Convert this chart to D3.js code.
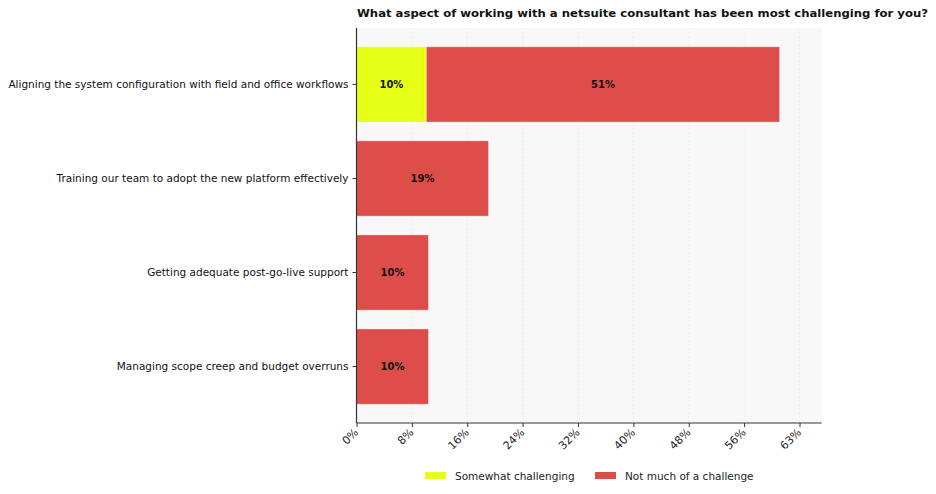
<!DOCTYPE html>
<html><head><meta charset="utf-8">
<script src="https://cdn.jsdelivr.net/npm/d3@7/dist/d3.min.js"></script>
<style>
body{margin:0;background:#fff;}
svg{display:block;font-family:"DejaVu Sans",sans-serif;}
</style></head>
<body><svg id="c" width="936" height="494"></svg>
<script>
const categories = [
  "Aligning the system configuration with field and office workflows",
  "Training our team to adopt the new platform effectively",
  "Getting adequate post-go-live support",
  "Managing scope creep and budget overruns"
];
const seriesNames = ["Somewhat challenging", "Not much of a challenge"];
const somewhat = [10.0, 0, 0, 0];
const notMuch = [50.6, 18.9, 10.3, 10.3];
const labelsSomewhat = ["10%", "", "", ""];
const labelsNotMuch = ["51%", "19%", "10%", "10%"];
const tickValues = [0, 7.93, 15.86, 23.79, 31.72, 39.66, 47.59, 55.52, 63.45];
const tickLabels = ["0%","8%","16%","24%","32%","40%","48%","56%","63%"];
const colors = ["#e5ff17", "#dd4e4a"];
const title = "What aspect of working with a netsuite consultant has been most challenging for you?";

const svg = d3.select("#c");
const m = {left:356.5, right:821.5, top:28, bottom:423};
const x = d3.scaleLinear().domain([0, 66.6]).range([m.left, m.right]);
const y = d3.scaleBand().domain(categories).range([m.top, m.bottom]).paddingInner(0.2).paddingOuter(0.2);

svg.append("rect").attr("x", m.left).attr("y", m.top).attr("width", m.right-m.left).attr("height", m.bottom-m.top).attr("fill", "#f8f8f8");

// grid
svg.append("g").selectAll("line").data(tickValues.slice(1)).join("line")
  .attr("x1", d=>x(d)).attr("x2", d=>x(d)).attr("y1", m.top).attr("y2", m.bottom)
  .attr("stroke", "#e6e6e6").attr("stroke-width", 0.7).attr("stroke-dasharray", "2,2");

const data = categories.map((c,i)=>({c, a:somewhat[i], b:notMuch[i], la:labelsSomewhat[i], lb:labelsNotMuch[i]}));

const g = svg.append("g");
g.selectAll("rect.a").data(data.filter(d=>d.a>0)).join("rect").attr("class","a")
  .attr("x", x(0)).attr("y", d=>y(d.c)).attr("width", d=>x(d.a)-x(0)).attr("height", y.bandwidth())
  .attr("fill", colors[0]).attr("stroke", "#ffffff").attr("stroke-opacity", 0.4).attr("stroke-width", 0.8);
g.selectAll("rect.b").data(data).join("rect").attr("class","b")
  .attr("x", d=>x(d.a)).attr("y", d=>y(d.c)).attr("width", d=>x(d.a+d.b)-x(d.a)).attr("height", y.bandwidth())
  .attr("fill", colors[1]).attr("stroke", "#ffffff").attr("stroke-opacity", 0.4).attr("stroke-width", 0.8);

g.selectAll("text.la").data(data.filter(d=>d.la)).join("text").attr("class","la")
  .attr("x", d=>x(d.a/2)).attr("y", d=>y(d.c)+y.bandwidth()/2).attr("dy","0.35em")
  .attr("text-anchor","middle").attr("font-size", 10).attr("font-weight","bold").attr("fill","#111").text(d=>d.la);
g.selectAll("text.lb").data(data).join("text").attr("class","lb")
  .attr("x", d=>x(d.a + d.b/2)).attr("y", d=>y(d.c)+y.bandwidth()/2).attr("dy","0.35em")
  .attr("text-anchor","middle").attr("font-size", 10).attr("font-weight","bold").attr("fill","#111").text(d=>d.lb);

// y axis
const ya = svg.append("g").attr("transform", `translate(${m.left},0)`)
  .call(d3.axisLeft(y).tickSize(4).tickPadding(4));
ya.select(".domain").attr("stroke","#333").attr("stroke-width",1.2).attr("d", `M0,${m.top}V${m.bottom}`);
ya.selectAll(".tick line").attr("stroke","#333");
ya.selectAll(".tick text").attr("font-size", 10.5).attr("fill","#111").attr("font-family","DejaVu Sans");

// x axis
const xa = svg.append("g").attr("transform", `translate(0,${m.bottom})`)
  .call(d3.axisBottom(x).tickValues(tickValues).tickFormat((d,i)=>tickLabels[i]).tickSize(4));
xa.select(".domain").attr("stroke","#333").attr("stroke-width",1.2).attr("d", `M${m.left},0H${m.right}`);
xa.selectAll(".tick line").attr("stroke","#333");
xa.selectAll(".tick text").attr("font-size", 11).attr("fill","#222").attr("font-family","DejaVu Sans")
  .attr("text-anchor","end").attr("dy",null).attr("y",null)
  .attr("transform","translate(2,10) rotate(-45)");

// title
svg.append("text").attr("x", 357).attr("y", 17).attr("font-size", 11.3).attr("font-weight","bold").attr("fill","#111")
  .attr("textLength", 571).attr("lengthAdjust","spacingAndGlyphs").text(title);

// legend
const lg = svg.append("g");
const legX = [425, 595];
seriesNames.forEach((s,i)=>{
  lg.append("rect").attr("x", legX[i]).attr("y", 472).attr("width", 21).attr("height", 7).attr("fill", colors[i]);
  lg.append("text").attr("x", legX[i]+30).attr("y", 480).attr("font-size", 10.5).attr("fill","#222").text(s);
});
</script></body></html>
